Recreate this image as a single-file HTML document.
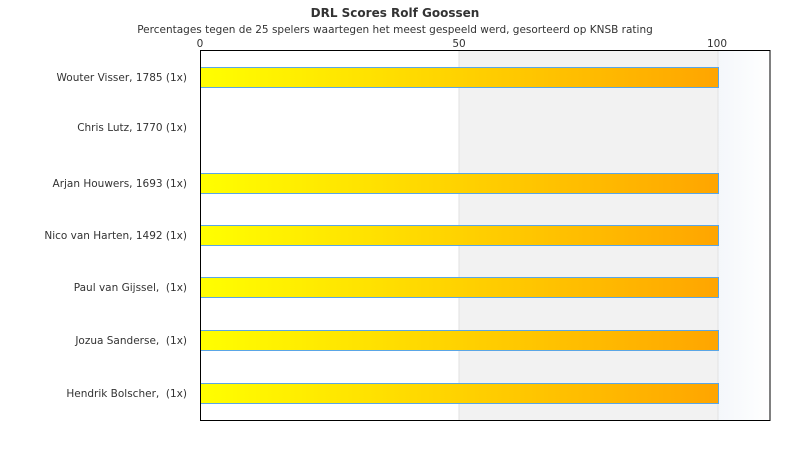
<!DOCTYPE html>
<html><head><meta charset="utf-8"><style>
body{margin:0;background:#fff;width:790px;height:450px;overflow:hidden}
svg text{font-family:"DejaVu Sans","Liberation Sans",sans-serif;fill:#333;white-space:pre}
</style></head><body>
<svg width="790" height="450" xmlns="http://www.w3.org/2000/svg">
<defs>
<linearGradient id="g" x1="0" x2="1"><stop offset="0" stop-color="#ffff00"/><stop offset="1" stop-color="#ffa500"/></linearGradient>
<linearGradient id="b" x1="0" x2="1"><stop offset="0" stop-color="#f4f7fb"/><stop offset="1" stop-color="#ffffff"/></linearGradient>
</defs>
<text x="395" y="17" text-anchor="middle" font-size="12" font-weight="bold">DRL Scores Rolf Goossen</text>
<text x="395" y="33" text-anchor="middle" font-size="10.5">Percentages tegen de 25 spelers waartegen het meest gespeeld werd, gesorteerd op KNSB rating</text>
<text x="200" y="47" text-anchor="middle" font-size="10.5">0</text>
<text x="459" y="47" text-anchor="middle" font-size="10.5">50</text>
<text x="717" y="47" text-anchor="middle" font-size="10.5">100</text>
<rect x="459" y="50" width="259" height="370" fill="#f2f2f2"/>
<rect x="718" y="50" width="52" height="370" fill="url(#b)"/>
<line x1="459" y1="50" x2="459" y2="420" stroke="#e2e2e2"/>
<line x1="718" y1="50" x2="718" y2="420" stroke="#e2e2e2"/>
<g fill="url(#g)" stroke="#5aa6e6" stroke-width="1">
<rect x="200.5" y="67.5" width="518" height="20"/>
<rect x="200.5" y="173.5" width="518" height="20"/>
<rect x="200.5" y="225.5" width="518" height="20"/>
<rect x="200.5" y="277.5" width="518" height="20"/>
<rect x="200.5" y="330.5" width="518" height="20"/>
<rect x="200.5" y="383.5" width="518" height="20"/>
</g>
<rect x="200.5" y="50.5" width="569.5" height="370" fill="none" stroke="#000" stroke-width="1"/>
<g font-size="10.5" text-anchor="end">
<text x="187" y="81">Wouter Visser, 1785 (1x)</text>
<text x="187" y="131">Chris Lutz, 1770 (1x)</text>
<text x="187" y="187">Arjan Houwers, 1693 (1x)</text>
<text x="187" y="239">Nico van Harten, 1492 (1x)</text>
<text x="187" y="291">Paul van Gijssel,  (1x)</text>
<text x="187" y="344">Jozua Sanderse,  (1x)</text>
<text x="187" y="397">Hendrik Bolscher,  (1x)</text>
</g>
</svg>
</body></html>
